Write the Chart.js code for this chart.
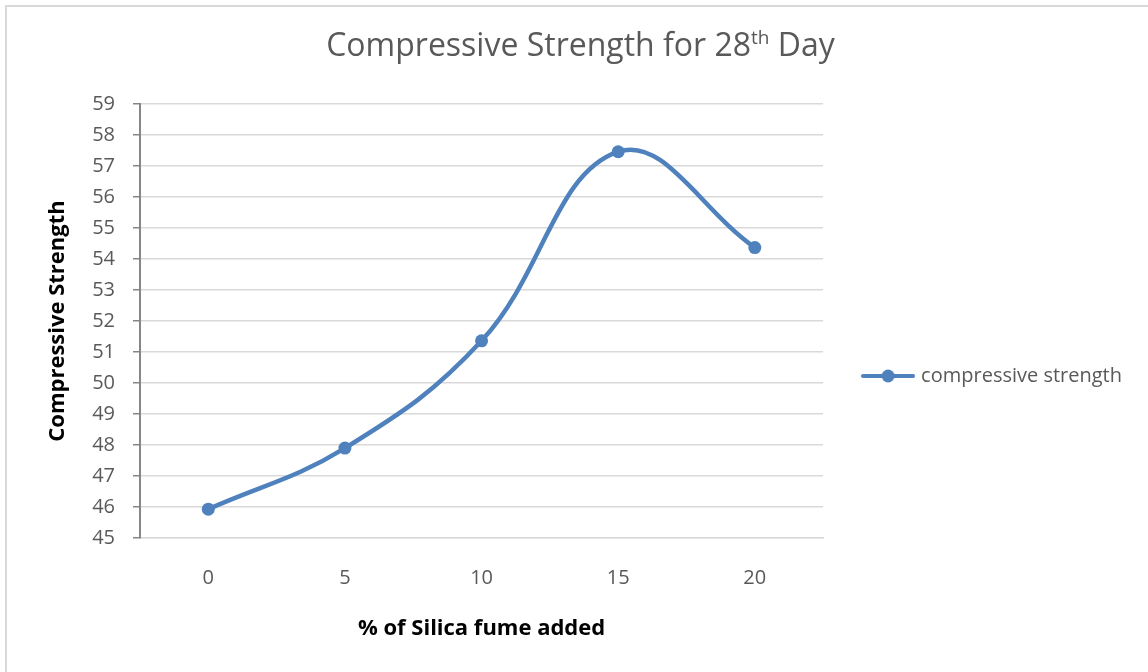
<!DOCTYPE html>
<html>
<head>
<meta charset="utf-8">
<script src="https://cdn.jsdelivr.net/npm/chart.js@4.4.1/dist/chart.umd.min.js"></script>
<style>
  html, body { margin: 0; padding: 0; background: #ffffff; }
  #wrap { width: 1148px; height: 672px; position: relative; }
</style>
</head>
<body>
<div id="wrap"><canvas id="c" width="1148" height="672"></canvas></div>
<script>
// ---- data ----
const categories = ['0', '5', '10', '15', '20'];
const strengthValues = [45.93, 47.9, 51.36, 57.46, 54.37];
const seriesName = 'compressive strength';
const titleMain = 'Compressive Strength for 28';
const titleSup = 'th';
const titleEnd = ' Day';
const yAxisTitle = 'Compressive Strength';
const xAxisTitle = '% of Silica fume added';
const yMin = 45, yMax = 59, yStep = 1;

const FONT = '"Open Sans", Lato, "Liberation Sans", sans-serif';
const BLUE = '#4f81bd';

// layout constants (left padding is negative so the legend may be wide enough;
// the y axis box is widened by the same amount)
const PAD_L = -130;
const AXIS_X = 140;

// legend swatch: line with a marker
function makeSwatch() {
  const c = document.createElement('canvas');
  c.width = 54; c.height = 14;
  const g = c.getContext('2d');
  g.strokeStyle = BLUE; g.lineWidth = 4; g.lineCap = 'round';
  g.beginPath(); g.moveTo(2, 7); g.lineTo(52, 7); g.stroke();
  g.fillStyle = BLUE;
  g.beginPath(); g.arc(27, 7, 6.5, 0, Math.PI * 2); g.fill();
  return c;
}
const swatch = makeSwatch();

const decorPlugin = {
  id: 'decor',
  beforeDraw(chart) {
    const ctx = chart.ctx;
    ctx.save();
    ctx.fillStyle = '#ffffff';
    ctx.fillRect(0, 0, chart.width, chart.height);
    ctx.strokeStyle = '#d9d9d9';
    ctx.lineWidth = 2;
    ctx.beginPath();
    ctx.moveTo(6, chart.height + 5);
    ctx.lineTo(6, 6);
    ctx.lineTo(chart.width + 5, 6);
    ctx.stroke();
    ctx.restore();
  },
  afterDraw(chart) {
    const ctx = chart.ctx;
    ctx.save();
    ctx.fillStyle = '#595959';
    ctx.textBaseline = 'alphabetic';
    const big = '32px ' + FONT, small = '19px ' + FONT;
    ctx.font = big;
    const w1 = ctx.measureText(titleMain).width;
    const w3 = ctx.measureText(titleEnd).width;
    ctx.font = small;
    const w2 = ctx.measureText(titleSup).width;
    const total = w1 + w2 + w3;
    let x = 580.5 - total / 2;
    const base = 56;
    ctx.textAlign = 'left';
    ctx.font = big; ctx.fillText(titleMain, x, base); x += w1;
    ctx.font = small; ctx.fillText(titleSup, x, base - 12); x += w2;
    ctx.font = big; ctx.fillText(titleEnd, x, base);
    ctx.restore();
  }
};

new Chart(document.getElementById('c'), {
  type: 'line',
  data: {
    labels: categories,
    datasets: [{
      label: seriesName,
      data: strengthValues,
      borderColor: BLUE,
      backgroundColor: BLUE,
      borderWidth: 4.5,
      pointRadius: 6.5,
      pointBackgroundColor: BLUE,
      pointBorderColor: BLUE,
      pointBorderWidth: 0,
      pointStyle: 'circle',
      tension: 0.4,
      fill: false
    }]
  },
  options: {
    responsive: false,
    animation: false,
    events: [],
    layout: { padding: { top: 104, bottom: 24, left: PAD_L, right: 16 } },
    plugins: {
      title: { display: false },
      tooltip: { enabled: false },
      legend: {
        display: true,
        position: 'right',
        align: 'center',
        labels: {
          usePointStyle: true,
          pointStyleWidth: 46,
          padding: 42,
          color: '#595959',
          font: { family: FONT, size: 20 },
          generateLabels(chart) {
            return chart.data.datasets.map((ds, i) => ({
              text: ds.label,
              pointStyle: swatch,
              fillStyle: BLUE,
              strokeStyle: BLUE,
              lineWidth: 0,
              fontColor: '#595959',
              hidden: false,
              datasetIndex: i
            }));
          }
        }
      }
    },
    scales: {
      x: {
        type: 'category',
        offset: true,
        grid: { display: false, drawTicks: false },
        border: { display: true, color: '#d9d9d9', width: 1.5 },
        ticks: { color: '#595959', font: { family: FONT, size: 20 }, padding: 28, maxRotation: 0 },
        title: { display: true, text: xAxisTitle, color: '#000000', font: { family: FONT, size: 22, weight: 'bold' }, padding: { top: 0, bottom: 6 } },
        afterFit(s) { s.height = 110; }
      },
      y: {
        min: yMin, max: yMax,
        grid: { color: '#d9d9d9', lineWidth: 1.5, tickColor: '#868686', tickLength: 7, tickWidth: 1.5 },
        border: { display: true, color: '#868686', width: 2 },
        ticks: { stepSize: yStep, color: '#595959', font: { family: FONT, size: 20 }, padding: 18 },
        title: { display: true, text: yAxisTitle, color: '#000000', font: { family: FONT, size: 22, weight: 'bold' }, padding: { top: 58 - PAD_L - 13.2, bottom: 0 } },
        afterFit(s) { s.width = AXIS_X - PAD_L; }
      }
    }
  },
  plugins: [decorPlugin]
});
</script>
</body>
</html>
